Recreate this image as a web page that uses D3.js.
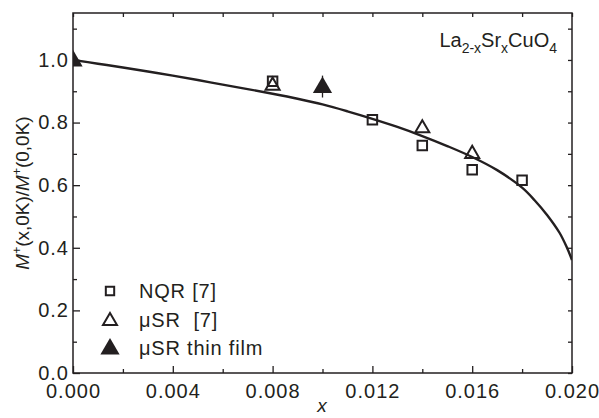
<!DOCTYPE html>
<html><head><meta charset="utf-8">
<script src="https://cdn.jsdelivr.net/npm/d3@7"></script>
<style>
body{margin:0;background:#fff;}
text{font-family:"Liberation Sans",Arial,Helvetica,sans-serif;fill:#231f20;}
</style></head>
<body><svg id="chart" width="599" height="418"></svg>
<script>
// ---- data ----
const nqrX = [0.008, 0.012, 0.014, 0.016, 0.018];
const nqrY = [0.932, 0.809, 0.727, 0.649, 0.616];
const musrX = [0.008, 0.014, 0.016];
const musrY = [0.921, 0.785, 0.703];
const filmX = [0.000, 0.010];
const filmY = [1.000, 0.915];
const filmErr = [0.0, 0.035];
const curveX = [0, 0.001, 0.002, 0.003, 0.004, 0.005, 0.006, 0.007, 0.008, 0.009, 0.010, 0.011, 0.012, 0.013, 0.014, 0.015, 0.016, 0.017, 0.018, 0.0185, 0.019, 0.0195, 0.0198, 0.020];
const curveY = [1.000, 0.988, 0.976, 0.963, 0.950, 0.936, 0.921, 0.907, 0.892, 0.876, 0.858, 0.836, 0.812, 0.786, 0.757, 0.725, 0.690, 0.648, 0.592, 0.552, 0.505, 0.448, 0.400, 0.361];
const xTicks = [0.000, 0.004, 0.008, 0.012, 0.016, 0.020];
const yTicks = [0.0, 0.2, 0.4, 0.6, 0.8, 1.0];
const legendLabels = ["NQR [7]", "\u03bcSR  [7]", "\u03bcSR thin film"];

// ---- layout ----
const svg = d3.select("#chart");
const L = 73, R = 572, T = 13, B = 373;
const x = d3.scaleLinear().domain([0, 0.020]).range([L, R]);
const y = d3.scaleLinear().domain([0, 1.15]).range([B, T]);
const ink = "#231f20";

svg.append("defs").append("clipPath").attr("id","clip")
  .append("rect").attr("x",L).attr("y",T).attr("width",R-L).attr("height",B-T);

// frame
svg.append("rect").attr("x",L).attr("y",T).attr("width",R-L).attr("height",B-T)
  .attr("fill","none").attr("stroke",ink).attr("stroke-width",1.5);

const fmt3 = d3.format(".3f"), fmt1 = d3.format(".1f");
const xMinor = d3.range(0, 0.0201, 0.002);
const yMinor = d3.range(0, 1.151, 0.1);

function styleAxis(g){
  g.select(".domain").remove();
  g.selectAll(".tick line").attr("stroke",ink).attr("stroke-width",1.3);
}
// bottom axis
const gxB = svg.append("g").attr("transform",`translate(0,${B})`)
  .call(d3.axisBottom(x).tickValues(xTicks).tickFormat(fmt3).tickSizeInner(-7).tickPadding(15));
styleAxis(gxB);
gxB.selectAll("text").attr("font-size",20).attr("letter-spacing",1).attr("fill",ink).attr("dy","0.5em");
svg.append("g").attr("transform",`translate(0,${B})`)
  .call(d3.axisBottom(x).tickValues(xMinor.filter((v,i)=>i%2==1)).tickFormat("").tickSizeInner(-4))
  .call(styleAxis);
// top axis
svg.append("g").attr("transform",`translate(0,${T})`)
  .call(d3.axisTop(x).tickValues(xMinor).tickFormat("").tickSizeInner(-4))
  .call(styleAxis);
// left axis
const gyL = svg.append("g").attr("transform",`translate(${L},0)`)
  .call(d3.axisLeft(y).tickValues(yTicks).tickFormat(fmt1).tickSizeInner(-7).tickPadding(4));
styleAxis(gyL);
gyL.selectAll("text").attr("font-size",20).attr("letter-spacing",1).attr("fill",ink);
svg.append("g").attr("transform",`translate(${L},0)`)
  .call(d3.axisLeft(y).tickValues(yMinor.filter((v,i)=>i%2==1)).tickFormat("").tickSizeInner(-4))
  .call(styleAxis);
// right axis
svg.append("g").attr("transform",`translate(${R},0)`)
  .call(d3.axisRight(y).tickValues(yMinor).tickFormat("").tickSizeInner(-4))
  .call(styleAxis);

// curve
const curvePts = curveX.map((v,i)=>[v,curveY[i]]);
svg.append("path").datum(curvePts)
  .attr("d", d3.line().x(d=>x(d[0])).y(d=>y(d[1])).curve(d3.curveCatmullRom.alpha(0.5)))
  .attr("fill","none").attr("stroke",ink).attr("stroke-width",2.4).attr("clip-path","url(#clip)");

const plot = svg.append("g").attr("clip-path","url(#clip)");
const sq = d3.symbol().type(d3.symbolSquare).size(90);
const tri = d3.symbol().type(d3.symbolTriangle).size(85);
const triF = d3.symbol().type(d3.symbolTriangle).size(160);

filmX.forEach((v,i)=>{
  if(filmErr[i]>0) plot.append("line").attr("x1",x(v)).attr("x2",x(v))
    .attr("y1",y(filmY[i]-filmErr[i])).attr("y2",y(filmY[i]+filmErr[i]))
    .attr("stroke",ink).attr("stroke-width",1.3);
});
plot.selectAll(".nqr").data(nqrX).join("path")
  .attr("transform",(d,i)=>`translate(${x(d)},${y(nqrY[i])})`).attr("d",sq)
  .attr("fill","none").attr("stroke",ink).attr("stroke-width",2);
plot.selectAll(".musr").data(musrX).join("path")
  .attr("transform",(d,i)=>`translate(${x(d)},${y(musrY[i])+1})`).attr("d",tri)
  .attr("fill","none").attr("stroke",ink).attr("stroke-width",2);
plot.selectAll(".film").data(filmX).join("path")
  .attr("transform",(d,i)=>`translate(${x(d)},${y(filmY[i])+1})`).attr("d",triF)
  .attr("fill",ink);

// legend
const lg = svg.append("g");
const ly = [291, 320, 348];
lg.append("path").attr("transform",`translate(110,${ly[0]})`).attr("d",d3.symbol().type(d3.symbolSquare).size(70))
  .attr("fill","none").attr("stroke",ink).attr("stroke-width",2);
lg.append("path").attr("transform",`translate(110,${ly[1]+1})`).attr("d",tri)
  .attr("fill","none").attr("stroke",ink).attr("stroke-width",2);
lg.append("path").attr("transform",`translate(110,${ly[2]+1})`).attr("d",triF).attr("fill",ink);
legendLabels.forEach((t,i)=>{
  lg.append("text").attr("x",139).attr("y",ly[i]).attr("dy","0.36em")
    .attr("font-size",20).attr("letter-spacing",0.8).style("white-space","pre").text(t);
});

// compound label
const cl = svg.append("text").attr("x",557).attr("y",47).attr("text-anchor","end").attr("font-size",20);
cl.append("tspan").text("La");
cl.append("tspan").attr("font-size",14).attr("dy",6).text("2-x");
cl.append("tspan").attr("dy",-6).text("Sr");
cl.append("tspan").attr("font-size",14).attr("dy",6).text("x");
cl.append("tspan").attr("dy",-6).text("CuO");
cl.append("tspan").attr("font-size",14).attr("dy",6).text("4");

// axis titles
svg.append("text").attr("x",322).attr("y",412).attr("text-anchor","middle")
  .attr("font-size",19).attr("font-style","italic").text("x");
const yl = svg.append("text").attr("transform",`translate(29,193) rotate(-90)`)
  .attr("text-anchor","middle").attr("font-size",19);
yl.append("tspan").attr("font-style","italic").text("M");
yl.append("tspan").attr("font-size",12).attr("dy",-8).text("+");
yl.append("tspan").attr("dy",8).text("(x,0K)/");
yl.append("tspan").attr("font-style","italic").text("M");
yl.append("tspan").attr("font-size",12).attr("dy",-8).text("+");
yl.append("tspan").attr("dy",8).text("(0,0K)");
</script></body></html>
